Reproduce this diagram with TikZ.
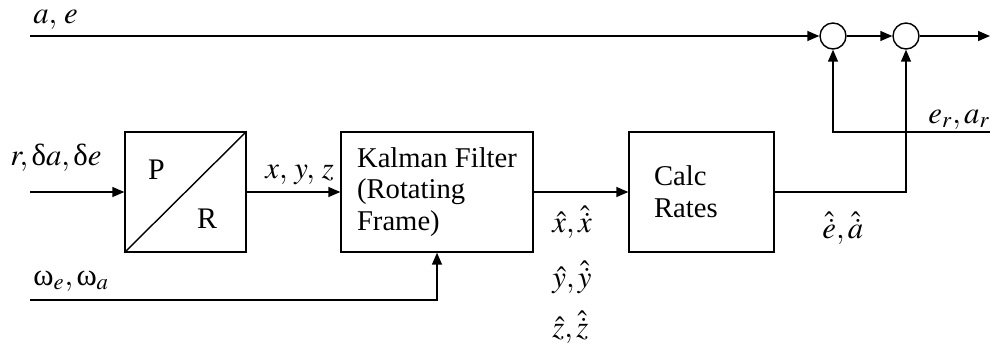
\documentclass[tikz,border=0pt]{standalone}
\usepackage{mathptmx}
\usepackage[no-math]{fontspec}
\setmainfont{Liberation Serif}
\usetikzlibrary{arrows.meta}
\tikzset{
  blk/.style={draw, line width=0.8pt, align=left, inner ysep=0pt, minimum height=2.4cm,
    font=\fontsize{16.3}{18}\selectfont},
  sumnode/.style={draw, circle, line width=0.8pt, minimum size=0.52cm, inner sep=0pt},
  sig/.style={line width=0.8pt, -{Triangle[length=0.24cm,width=0.2cm]}},
  wire/.style={line width=0.8pt},
  lbl/.style={inner sep=0pt, anchor=base west, font=\fontsize{17.5}{18}\selectfont},
}

\begin{document}
\begin{tikzpicture}[x=0.02cm,y=-0.02cm,font=\fontsize{17}{18}\selectfont]
	\useasboundingbox (0,0) rectangle (997,349);
	
	% Define the blocks and summing points
	\node[blk, minimum width=2.42cm] (pr) at (185.5,192) {};
	\node[blk, minimum width=3.84cm] (kf) at (437,192) {Kalman Filter\\(Rotating\\Frame)};
	\node[blk, inner xsep=0.5cm, text width=1.9cm] (cr) at (701.5,192) {Calc\\Rates};
	\node[sumnode] (s1) at (833,36) {};
	\node[sumnode] (s2) at (906,36) {};
	
	% Split of the P/R block
	\draw[wire] (pr.south west) -- (pr.north east);
	\node (p) at (156.5,170) {P};
	\node (r) at (207,219) {R};
	
	% Free ends of the signals
	\coordinate (aein) at (30,36);
	\coordinate (rin) at (30,192);
	\coordinate (win) at (30,300);
	\coordinate (out) at (990,36);
	\coordinate (erin) at (990,132);
	
	% Draw the signals
	\draw[sig] (aein) -- (s1);
	\draw[sig] (s1) -- (s2);
	\draw[sig] (s2) -- (out);
	\draw[sig] (rin) -- (pr);
	\draw[sig] (pr) -- (kf);
	\draw[sig] (kf) -- (cr);
	\draw[sig] (win) -| (kf.south);
	\draw[sig] (cr.east) -| (s2.south);
	\draw[sig] (erin) -| (s1.south);
	
	% Signal labels
	\node[lbl] (ae) at (33,23) {$a,\,e$};
	\node[lbl] (rda) at (10,165) {$r,\mbox{δ}a,\mbox{δ}e$};
	\node[lbl] (xyz) at (265,178) {$x,\,y,\,z$};
	\node[lbl] (we) at (33,285) {$\mbox{ω}_e,\mbox{ω}_a$};
	\node[lbl] (xh) at (552,232) {$\hat{x},\hat{\dot{x}}$};
	\node[lbl] (yh) at (552,287) {$\hat{y},\hat{\dot{y}}$};
	\node[lbl] (zh) at (552,337) {$\hat{z},\hat{\dot{z}}$};
	\node[lbl] (eh) at (822,238) {$\hat{\dot{e}},\hat{\dot{a}}$};
	\node[lbl] (er) at (928,123) {$e_r,a_r$};
\end{tikzpicture}
\end{document}
